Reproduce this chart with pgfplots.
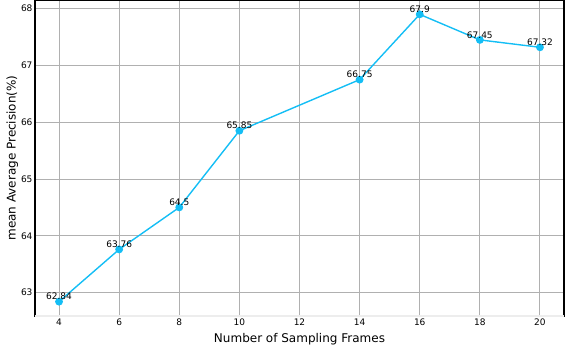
\documentclass[border=0pt]{standalone}
\usepackage{pgfplots}
\pgfplotsset{compat=1.18}
\usepackage{fontspec}
\setmainfont{DejaVu Sans}
\definecolor{lineblue}{RGB}{20,190,245}
\definecolor{gridgray}{RGB}{176,176,176}
\begin{document}
\begin{tikzpicture}
\path[use as bounding box] (-35pt,-32pt) rectangle (531pt,316pt);
\begin{axis}[
    scale only axis, width=529pt, height=316pt,
    at={(0pt,0pt)}, anchor=south west,
    xmin=3.2, xmax=20.8, ymin=62.587, ymax=68.153,
    xtick={4,6,8,10,12,14,16,18,20},
    ytick={63,64,65,66,67,68},
    /pgf/number format/assume math mode=true,
    ticklabel style={font=\fontsize{9}{10}\selectfont},
    xlabel={Number of Sampling Frames},
    ylabel={mean Average Precision(\%)},
    label style={font=\fontsize{12}{14}\selectfont},
    xlabel style={yshift=-1pt},
    ylabel style={yshift=-4pt},
    grid=major, grid style={gridgray, line width=1pt},
    axis line style={black, line width=1.2pt},
    tick style={draw=none},
    xticklabel style={yshift=1pt},
    yticklabel style={xshift=1pt},
    clip=false,
]
\addplot[lineblue, line width=1.4pt, mark=*, mark size=3.2pt,
    mark options={fill=lineblue, draw=lineblue},
    nodes near coords, point meta=explicit symbolic,
    every node near coord/.append style={black, font=\fontsize{9}{10}\selectfont, inner sep=1pt, anchor=south}]
coordinates {
(4,62.84)  [62.84]
(6,63.76)  [63.76]
(8,64.5)   [64.5]
(10,65.85) [65.85]
(14,66.75) [66.75]
(16,67.9)  [67.9]
(18,67.45) [67.45]
(20,67.32) [67.32]
};
\draw[black!7, line width=1.5pt] (rel axis cs:0,0) -- (rel axis cs:1,0);
\end{axis}
\end{tikzpicture}
\end{document}
